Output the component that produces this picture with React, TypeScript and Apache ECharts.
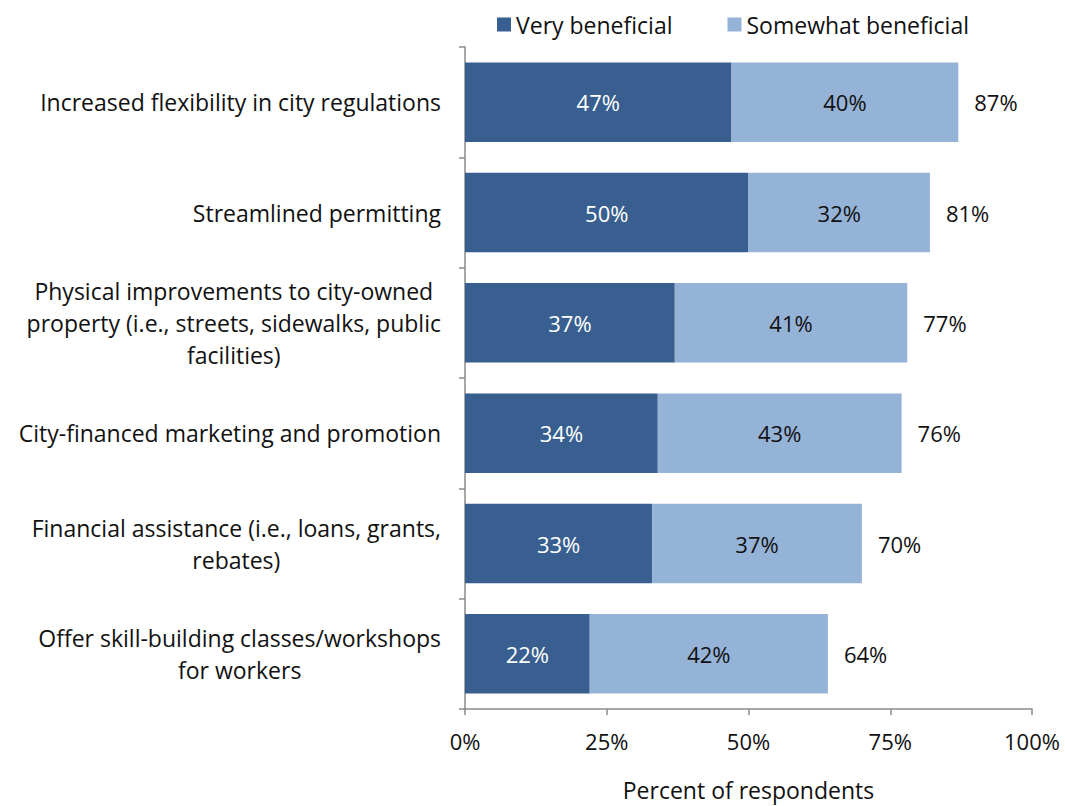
import React, { useEffect, useRef } from "react";
import * as echarts from "echarts";

const categories: string[][] = [
  ["Increased flexibility in city regulations"],
  ["Streamlined permitting"],
  ["Physical improvements to city-owned", "property (i.e., streets, sidewalks, public", "facilities)"],
  ["City-financed marketing and promotion"],
  ["Financial assistance (i.e., loans, grants,", "rebates)"],
  ["Offer skill-building classes/workshops", "for workers"],
];
const veryBeneficial = [47, 50, 37, 34, 33, 22];
const somewhatBeneficial = [40, 32, 41, 43, 37, 42];
const totals = [87, 81, 77, 76, 70, 64];
const xTicks = [0, 25, 50, 75, 100];

const FONT = "Open Sans";
const DARK = "#385F8F";
const LIGHT = "#95B3D7";
const TXT = "#111";

export default function App() {
  const ref = useRef<HTMLDivElement>(null);
  useEffect(() => {
    document.body.style.margin = "0";
    const chart = echarts.init(ref.current!, null, { renderer: "svg" });
    const catNames = categories.map((c) => c.join("\n"));
    chart.setOption({
      animation: false,
      textStyle: { fontFamily: FONT },
      legend: {
        top: 8,
        left: 492,
        itemWidth: 14,
        itemHeight: 14,
        itemGap: 55,
        icon: "rect",
        textStyle: { fontSize: 23, color: TXT, fontFamily: FONT },
        data: ["Very beneficial", "Somewhat beneficial"],
      },
      grid: { left: 465, right: 33, top: 47, bottom: 82, containLabel: false },
      xAxis: {
        type: "value",
        min: 0,
        max: 100,
        interval: 25,
        name: "Percent of respondents",
        nameLocation: "middle",
        nameGap: 69,
        nameTextStyle: { fontSize: 23, color: TXT, fontFamily: FONT },
        axisLine: { show: true, lineStyle: { color: "#8a8a8a", width: 1.5 } },
        axisTick: { show: true, length: 6, lineStyle: { color: "#8a8a8a", width: 1.5 } },
        splitLine: { show: false },
        axisLabel: {
          fontSize: 22,
          color: TXT,
          margin: 21,
          fontFamily: FONT,
          formatter: (v: number) => (xTicks.includes(v) ? v + "%" : ""),
        },
      },
      yAxis: {
        type: "category",
        inverse: true,
        data: catNames,
        axisLine: { show: true, lineStyle: { color: "#8a8a8a", width: 1.5 } },
        axisTick: { show: true, length: 6, lineStyle: { color: "#8a8a8a", width: 1.5 } },
        axisLabel: {
          margin: 24,
          formatter: (v: string) =>
            v
              .split("\n")
              .map((l) => "{c|" + l + "}")
              .join("\n"),
          rich: {
            c: { align: "center", fontSize: 23, color: TXT, fontFamily: FONT, lineHeight: 32 },
          },
        },
      },
      series: [
        {
          name: "Very beneficial",
          type: "bar",
          stack: "s",
          barCategoryGap: "28%",
          itemStyle: { color: DARK },
          label: {
            show: true,
            position: "inside",
            color: "#fff",
            fontSize: 22,
            fontFamily: FONT,
            formatter: (p: any) => p.value + "%",
          },
          data: veryBeneficial,
        },
        {
          name: "Somewhat beneficial",
          type: "bar",
          stack: "s",
          itemStyle: { color: LIGHT },
          label: {
            show: true,
            position: "inside",
            color: TXT,
            fontSize: 22,
            fontFamily: FONT,
            formatter: (p: any) => p.value + "%",
          },
          data: somewhatBeneficial,
        },
        {
          name: "Total",
          type: "bar",
          stack: "s",
          itemStyle: { color: "transparent" },
          label: {
            show: true,
            position: "right",
            distance: 16,
            color: TXT,
            fontSize: 22,
            fontFamily: FONT,
            formatter: (p: any) => totals[p.dataIndex] + "%",
          },
          data: totals.map(() => 0),
        },
      ],
    });
    return () => chart.dispose();
  }, []);
  return <div ref={ref} style={{ width: 1065, height: 806 }} />;
}
